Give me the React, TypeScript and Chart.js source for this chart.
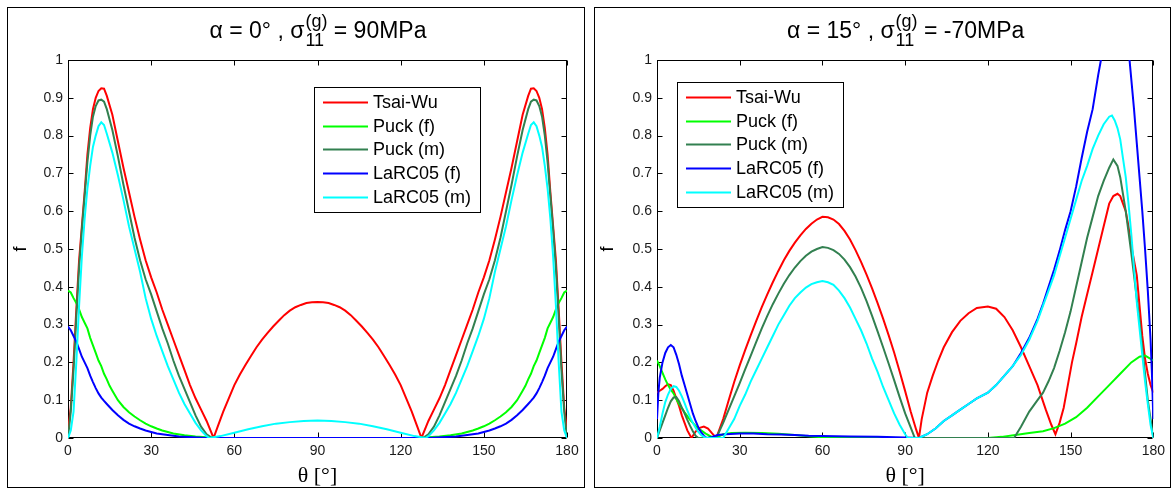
import React, { useEffect, useRef } from 'react';
import { Chart, registerables } from 'chart.js';

Chart.register(...registerables);

// ---------- axes ----------
const X_TICKS = [0, 30, 60, 90, 120, 150, 180];
const Y_TICKS = [0, 0.1, 0.2, 0.3, 0.4, 0.5, 0.6, 0.7, 0.8, 0.9, 1];
const SERIES_NAMES = ['Tsai-Wu', 'Puck (f)', 'Puck (m)', 'LaRC05 (f)', 'LaRC05 (m)'];
const SERIES_COLORS = ['#ff0000', '#00ff00', 'rgb(50,128,80)', '#0000ff', '#00ffff'];

// ---------- left panel: alpha = 0 deg, sigma = 90 MPa ----------
const L_TSAI_T = [0,1,2,3,4,5,6,7,8,9,10,11,12,13,14,16,18,20,22,24,26,28,30,32,34,36,38,40,42,44,46,48,50,52.5,54,56,58,60,62,64,66,68,70,72,74,76,78,80,82,84,86,88,90,92,94,96,98,100,102,104,106,108,110,112,114,116,118,120,122,124,126,127.5,130,132,134,136,138,140,142,144,146,148,150,152,154,156,158,160,162,164,166,167,168,169,170,171,172,173,174,175,176,177,178,179,180];
const L_TSAI_F = [0.02,0.08,0.2,0.34,0.47,0.56,0.65,0.75,0.82,0.87,0.9,0.918,0.925,0.924,0.905,0.855,0.785,0.715,0.65,0.585,0.525,0.47,0.425,0.385,0.34,0.3,0.26,0.22,0.18,0.14,0.105,0.075,0.045,0,0.03,0.07,0.105,0.14,0.168,0.193,0.217,0.24,0.26,0.278,0.295,0.31,0.325,0.337,0.346,0.352,0.357,0.359,0.36,0.359,0.357,0.352,0.346,0.337,0.325,0.31,0.295,0.278,0.26,0.24,0.217,0.193,0.168,0.14,0.105,0.07,0.03,0,0.045,0.075,0.105,0.14,0.18,0.22,0.26,0.3,0.34,0.385,0.425,0.47,0.525,0.585,0.65,0.715,0.785,0.855,0.905,0.924,0.925,0.918,0.9,0.87,0.82,0.75,0.65,0.56,0.47,0.34,0.2,0.08,0.02];

const L_PUCKF_T = [0,1,2,3,4,5,6,7,8,9,10,11,12,13,14,15,16,18,20,22,24,26,28,30,32,34,36,38,42,46,50,55,125,130,134,138,142,144,146,148,150,152,154,156,158,160,162,164,165,166,167,168,169,170,171,172,173,174,175,176,177,178,179,180];
const L_PUCKF_F = [0.39,0.385,0.37,0.357,0.34,0.32,0.305,0.29,0.265,0.245,0.225,0.205,0.19,0.17,0.155,0.138,0.125,0.1,0.082,0.068,0.057,0.047,0.038,0.031,0.025,0.02,0.016,0.012,0.007,0.004,0.002,0,0,0.002,0.004,0.007,0.012,0.016,0.02,0.025,0.031,0.038,0.047,0.057,0.068,0.082,0.1,0.125,0.138,0.155,0.17,0.19,0.205,0.225,0.245,0.265,0.29,0.305,0.32,0.34,0.357,0.37,0.385,0.39];

const L_PUCKM_T = [0,1,2,3,4,5,6,7,8,9,10,11,12,13,14,16,18,20,22,24,26,28,30,32,34,36,38,40,42,44,46,48,50,52,128,130,132,134,136,138,140,142,144,146,148,150,152,154,156,158,160,162,164,166,167,168,169,170,171,172,173,174,175,176,177,178,179,180];
const L_PUCKM_F = [0,0.07,0.18,0.32,0.45,0.55,0.64,0.73,0.8,0.85,0.878,0.893,0.895,0.89,0.87,0.815,0.745,0.67,0.6,0.53,0.47,0.42,0.38,0.335,0.29,0.25,0.205,0.165,0.13,0.095,0.06,0.03,0.01,0,0,0.01,0.03,0.06,0.095,0.13,0.165,0.205,0.25,0.29,0.335,0.38,0.42,0.47,0.53,0.6,0.67,0.745,0.815,0.87,0.89,0.895,0.893,0.878,0.85,0.8,0.73,0.64,0.55,0.45,0.32,0.18,0.07,0];

const L_LARCF_T = [0,1,2,3,4,5,6,7,8,9,10,11,12,13,14,15,16,18,20,22,24,26,28,30,32,36,40,45,50,130,135,140,144,148,150,152,154,156,158,160,162,164,165,166,167,168,169,170,171,172,173,174,175,176,177,178,179,180];
const L_LARCF_F = [0.295,0.285,0.27,0.255,0.235,0.215,0.2,0.185,0.165,0.148,0.132,0.118,0.107,0.098,0.09,0.082,0.074,0.06,0.048,0.038,0.031,0.025,0.02,0.016,0.012,0.008,0.004,0.002,0,0,0.002,0.004,0.008,0.012,0.016,0.02,0.025,0.031,0.038,0.048,0.06,0.074,0.082,0.09,0.098,0.107,0.118,0.132,0.148,0.165,0.185,0.2,0.215,0.235,0.255,0.27,0.285,0.295];

const L_LARCM_T = [0,1,2,3,4,5,6,7,8,9,10,11,12,13,14,16,18,20,22,24,26,28,30,32,34,36,38,40,42,44,46,48,50,51,55,60,65,70,75,80,85,90,95,100,105,110,115,120,125,129,130,132,134,136,138,140,142,144,146,148,150,152,154,156,158,160,162,164,166,167,168,169,170,171,172,173,174,175,176,177,178,179,180];
const L_LARCM_F = [0,0.02,0.07,0.2,0.35,0.48,0.58,0.66,0.72,0.77,0.8,0.825,0.835,0.828,0.805,0.755,0.695,0.63,0.56,0.5,0.44,0.37,0.315,0.27,0.23,0.19,0.155,0.12,0.09,0.065,0.04,0.02,0.005,0,0.005,0.014,0.023,0.031,0.038,0.042,0.045,0.046,0.045,0.042,0.038,0.031,0.023,0.014,0.005,0,0.005,0.02,0.04,0.065,0.09,0.12,0.155,0.19,0.23,0.27,0.315,0.37,0.44,0.5,0.56,0.63,0.695,0.755,0.805,0.828,0.835,0.825,0.8,0.77,0.72,0.66,0.58,0.48,0.35,0.2,0.07,0.02,0];

// ---------- right panel: alpha = 15 deg, sigma = -70 MPa ----------
const R_TSAI_T = [0,1,2,3,4,5,6,7,8,9,10,11,12.5,14,15.5,17,18.5,20,21.5,24,26,28,30,32,34,36,38,40,42,44,46,48,50,52,54,56,58,60,62,64,66,68,70,72,74,76,78,80,82,84,86,88,90,92,94,95,96,98,100,102,104,107,110,113,116,120,123,126,129,132,135,138,141,143,144.5,146,147.5,149,150.5,152,154,156,158,160,162,164,165.5,167,168,169,170,171,172,173,174,175,176,177,178,179,180];
const R_TSAI_F = [0.12,0.125,0.13,0.137,0.142,0.14,0.125,0.105,0.085,0.06,0.04,0.02,0,0.017,0.027,0.03,0.025,0.012,0,0.05,0.1,0.148,0.192,0.233,0.272,0.31,0.346,0.38,0.412,0.442,0.47,0.495,0.517,0.536,0.553,0.567,0.578,0.585,0.584,0.578,0.566,0.548,0.525,0.497,0.466,0.432,0.396,0.357,0.316,0.272,0.226,0.176,0.124,0.07,0.022,0,0.05,0.12,0.165,0.205,0.24,0.28,0.31,0.33,0.344,0.348,0.342,0.32,0.285,0.24,0.19,0.14,0.075,0.035,0.01,0.04,0.08,0.14,0.2,0.25,0.32,0.38,0.44,0.5,0.56,0.62,0.64,0.646,0.64,0.62,0.6,0.56,0.51,0.47,0.43,0.35,0.27,0.21,0.17,0.14,0.12];

const R_PUCKF_T = [0,1,2,3,4,5,6,7,8,9,10,11,12,13,14,15,16,17,18,19,20,21,24,27,32,38,44,50,56,60,65,120,125,130,135,140,144,148,152,156,160,164,168,172,175,177,180];
const R_PUCKF_F = [0.205,0.19,0.172,0.155,0.14,0.128,0.118,0.103,0.09,0.079,0.068,0.058,0.048,0.04,0.032,0.025,0.02,0.015,0.01,0.006,0.003,0,0.01,0.013,0.014,0.013,0.011,0.008,0.004,0.002,0,0,0.003,0.008,0.013,0.018,0.026,0.038,0.055,0.08,0.11,0.14,0.17,0.2,0.215,0.218,0.205];

const R_PUCKM_T = [0,1,2,3,4,5,6,7,8,9,10,11,12,13,14,15,21.5,24,26,28,30,32,34,36,38,40,42,44,46,48,50,52,54,56,58,60,62,64,66,68,70,72,74,76,78,80,82,84,86,88,90,92,93.5,129.5,132,135,138,140,142,144,146,148,150,152,154,156,158,160,162,164,165.5,167,168,169,170,171,172,173,174,175,176,177,178,179,180];
const R_PUCKM_F = [0,0.02,0.04,0.06,0.08,0.097,0.107,0.108,0.097,0.08,0.065,0.048,0.032,0.018,0.006,0,0,0.04,0.075,0.11,0.145,0.182,0.218,0.254,0.29,0.323,0.354,0.382,0.408,0.431,0.451,0.468,0.482,0.493,0.5,0.505,0.503,0.497,0.487,0.472,0.452,0.427,0.397,0.362,0.323,0.282,0.24,0.197,0.153,0.108,0.065,0.028,0,0,0.03,0.07,0.1,0.12,0.15,0.185,0.23,0.28,0.335,0.4,0.465,0.53,0.585,0.64,0.68,0.715,0.737,0.72,0.69,0.645,0.6,0.545,0.49,0.43,0.37,0.31,0.24,0.17,0.1,0.05,0];

const R_LARCF_T = [0,0.5,1,2,3,4,5,6,7,8,9,10,11,12,13,14,15,16,17,18,20,22,25,30,35,40,45,50,55,60,70,80,90,95,98,101,104,107,110,113,116,120,123,126,129,132,135,138,140,142,144,146,148,150,152,154,156,158,160,161,162,164,166,168,170,171,172,173,174,175,176,177,178,179,179.5,180];
const R_LARCF_F = [0.05,0.12,0.16,0.2,0.225,0.24,0.246,0.24,0.22,0.195,0.165,0.14,0.115,0.09,0.065,0.045,0.028,0.015,0.006,0,0.003,0.008,0.01,0.012,0.012,0.01,0.009,0.008,0.006,0.005,0.004,0.003,0.001,0,0.01,0.025,0.045,0.06,0.075,0.09,0.105,0.12,0.14,0.165,0.19,0.225,0.265,0.315,0.355,0.4,0.445,0.495,0.55,0.6,0.665,0.74,0.81,0.87,0.96,1.0,1.04,1.12,1.16,1.12,1.06,1.03,0.95,0.87,0.78,0.69,0.6,0.5,0.39,0.26,0.17,0.05];

const R_LARCM_T = [0,1,2,3,4,5,6,7,8,9,10,11,12,13,14,15,16,17,18,24,26,28,30,32,34,36,38,40,42,44,46,48,50,52,54,56,58,60,62,64,66,68,70,72,74,76,78,80,82,84,86,88,90,91,95,98,101,104,107,110,113,116,120,123,126,129,132,135,138,140,142,144,146,148,150,152,154,156,158,160,162,164,165,166,167,168,169,170,171,172,173,174,175,176,177,178,179,180];
const R_LARCM_F = [0,0.03,0.065,0.095,0.115,0.13,0.137,0.135,0.125,0.11,0.092,0.073,0.055,0.04,0.027,0.016,0.008,0.003,0,0,0.025,0.05,0.085,0.115,0.15,0.18,0.21,0.24,0.27,0.3,0.325,0.35,0.37,0.385,0.398,0.407,0.412,0.415,0.412,0.405,0.39,0.37,0.345,0.315,0.285,0.25,0.21,0.175,0.135,0.1,0.065,0.035,0.01,0,0,0.01,0.025,0.045,0.06,0.075,0.09,0.105,0.12,0.14,0.165,0.19,0.22,0.26,0.31,0.35,0.39,0.43,0.48,0.53,0.58,0.63,0.68,0.72,0.765,0.8,0.83,0.85,0.853,0.84,0.82,0.79,0.74,0.69,0.62,0.54,0.45,0.36,0.29,0.22,0.15,0.09,0.035,0];

// ---------- panel definitions ----------
type PanelDef = {
  frameLeft: number;
  width: number;
  axisWidth: number;
  padRight: number;
  title: { pre: string; sup: string; sub: string; post: string };
  legendX: number;
  legendY: number;
  series: [number[], number[]][];
};

const PANELS: PanelDef[] = [
  {
    frameLeft: 7, width: 576, axisWidth: 60, padRight: 17,
    title: { pre: 'α = 0° , σ', sup: '(g)', sub: '11', post: ' = 90MPa' },
    legendX: 306, legendY: 79,
    series: [[L_TSAI_T, L_TSAI_F], [L_PUCKF_T, L_PUCKF_F], [L_PUCKM_T, L_PUCKM_F], [L_LARCF_T, L_LARCF_F], [L_LARCM_T, L_LARCM_F]],
  },
  {
    frameLeft: 594, width: 575, axisWidth: 62, padRight: 12,
    title: { pre: 'α = 15° , σ', sup: '(g)', sub: '11', post: ' = -70MPa' },
    legendX: 82, legendY: 74,
    series: [[R_TSAI_T, R_TSAI_F], [R_PUCKF_T, R_PUCKF_F], [R_PUCKM_T, R_PUCKM_F], [R_LARCF_T, R_LARCF_F], [R_LARCM_T, R_LARCM_F]],
  },
];

const CANVAS_H = 479;
const SANS = '"Liberation Sans", Arial, sans-serif';
const SERIF = '"Liberation Serif", "Times New Roman", serif';

const decor = {
  id: 'decor',
  beforeDatasetsDraw(chart: any) {
    const { ctx, chartArea: a, scales } = chart;
    const xs = scales.x, ys = scales.y;
    ctx.save();
    ctx.strokeStyle = '#000';
    ctx.lineWidth = 1;
    const L = Math.round(a.left) + 0.5, R = Math.round(a.right) - 0.5;
    const T = Math.round(a.top) + 0.5, B = Math.round(a.bottom) - 0.5;
    ctx.strokeRect(L, T, R - L, B - T);
    ctx.beginPath();
    X_TICKS.forEach((v) => {
      const px = Math.round(xs.getPixelForValue(v)) + 0.5;
      ctx.moveTo(px, B); ctx.lineTo(px, B - 5);
      ctx.moveTo(px, T); ctx.lineTo(px, T + 5);
    });
    Y_TICKS.forEach((v) => {
      const py = Math.round(ys.getPixelForValue(v)) + 0.5;
      ctx.moveTo(L, py); ctx.lineTo(L + 5, py);
      ctx.moveTo(R, py); ctx.lineTo(R - 5, py);
    });
    ctx.stroke();
    ctx.restore();
  },
  afterDraw(chart: any, _args: any, o: any) {
    const { ctx, chartArea: a } = chart;
    ctx.save();
    ctx.fillStyle = '#000';
    // title
    const t = o.title;
    const mainFont = '23px ' + SANS;
    const smallFont = '18px ' + SANS;
    ctx.font = mainFont;
    const w1 = ctx.measureText(t.pre).width;
    const w3 = ctx.measureText(t.post).width;
    ctx.font = smallFont;
    const w2 = Math.max(ctx.measureText(t.sup).width, ctx.measureText(t.sub).width);
    const cx = (a.left + a.right) / 2;
    let x = cx - (w1 + w2 + w3) / 2;
    const base = 30;
    ctx.textAlign = 'left';
    ctx.textBaseline = 'alphabetic';
    ctx.font = mainFont;
    ctx.fillText(t.pre, x, base);
    x += w1 + 1;
    ctx.font = smallFont;
    ctx.fillText(t.sup, x, base - 11);
    ctx.fillText(t.sub, x, base + 8);
    x += w2;
    ctx.font = mainFont;
    ctx.fillText(t.post, x, base);

    // axis labels
    ctx.textAlign = 'center';
    ctx.textBaseline = 'middle';
    ctx.font = '22px ' + SERIF;
    ctx.fillText('θ [°]', cx, 468);
    ctx.save();
    ctx.translate(13, (a.top + a.bottom) / 2);
    ctx.rotate(-Math.PI / 2);
    ctx.font = '18px ' + SANS;
    ctx.fillText('f', 0, 0);
    ctx.restore();

    // legend
    const LX = o.legendX, LY = o.legendY, LW = 166, LH = 125;
    ctx.fillStyle = '#fff';
    ctx.fillRect(LX, LY, LW, LH);
    ctx.strokeStyle = '#000';
    ctx.lineWidth = 1;
    ctx.strokeRect(LX + 0.5, LY + 0.5, LW, LH);
    ctx.font = '18px ' + SANS;
    ctx.textAlign = 'left';
    ctx.textBaseline = 'middle';
    SERIES_NAMES.forEach((name, i) => {
      const y = Math.round(LY + 15 + i * 23.7) + 0.5;
      ctx.strokeStyle = SERIES_COLORS[i];
      ctx.lineWidth = 2;
      ctx.beginPath();
      ctx.moveTo(LX + 9, y);
      ctx.lineTo(LX + 54, y);
      ctx.stroke();
      ctx.fillStyle = '#000';
      ctx.fillText(name, LX + 59, y + 1);
    });
    ctx.restore();
  },
};

function Panel({ def }: { def: PanelDef }) {
  const ref = useRef<HTMLCanvasElement>(null);
  useEffect(() => {
    const datasets = def.series.map(([t, f], i) => ({
      label: SERIES_NAMES[i],
      data: t.map((x, j) => ({ x, y: f[j] })),
      borderColor: SERIES_COLORS[i],
      backgroundColor: SERIES_COLORS[i],
      borderWidth: 2,
      pointRadius: 0,
      tension: 0,
      fill: false,
      order: SERIES_NAMES.length - i,
    }));
    const tickFont = { family: '"Liberation Sans", Arial, sans-serif', size: 14 };
    const chart = new Chart(ref.current as HTMLCanvasElement, {
      type: 'line',
      data: { datasets } as any,
      options: {
        responsive: false,
        animation: false,
        events: [],
        layout: { padding: { left: 0, top: 52, right: def.padRight, bottom: 0 } },
        plugins: {
          legend: { display: false },
          tooltip: { enabled: false },
          decor: { title: def.title, legendX: def.legendX, legendY: def.legendY },
        } as any,
        scales: {
          x: {
            type: 'linear',
            min: 0,
            max: 180,
            grid: { display: false, drawTicks: false },
            border: { display: false },
            ticks: {
              font: tickFont, color: '#1a1a1a', padding: 5, autoSkip: false, maxRotation: 0,
              callback: (v: any) => String(v),
            },
            afterBuildTicks: (s: any) => { s.ticks = X_TICKS.map((v) => ({ value: v })); },
            afterFit: (s: any) => { s.height = 49; },
          },
          y: {
            type: 'linear',
            min: 0,
            max: 1,
            grid: { display: false, drawTicks: false },
            border: { display: false },
            ticks: {
              font: tickFont, color: '#1a1a1a', padding: 5, autoSkip: false,
              callback: (v: any) => String(v),
            },
            afterBuildTicks: (s: any) => { s.ticks = Y_TICKS.map((v) => ({ value: v })); },
            afterFit: (s: any) => { s.width = def.axisWidth; },
          },
        },
      } as any,
      plugins: [decor as any],
    });
    return () => chart.destroy();
  }, [def]);
  return (
    <div
      style={{
        position: 'absolute', left: def.frameLeft, top: 7, width: def.width, height: CANVAS_H,
        border: '1px solid #000', background: '#fff',
      }}
    >
      <canvas ref={ref} width={def.width} height={CANVAS_H} style={{ display: 'block', width: def.width, height: CANVAS_H }} />
    </div>
  );
}

export default function App() {
  return (
    <div style={{ position: 'absolute', left: 0, top: 0, width: 1171, height: 489, background: '#fff' }}>
      {PANELS.map((p, i) => (
        <Panel key={i} def={p} />
      ))}
    </div>
  );
}
